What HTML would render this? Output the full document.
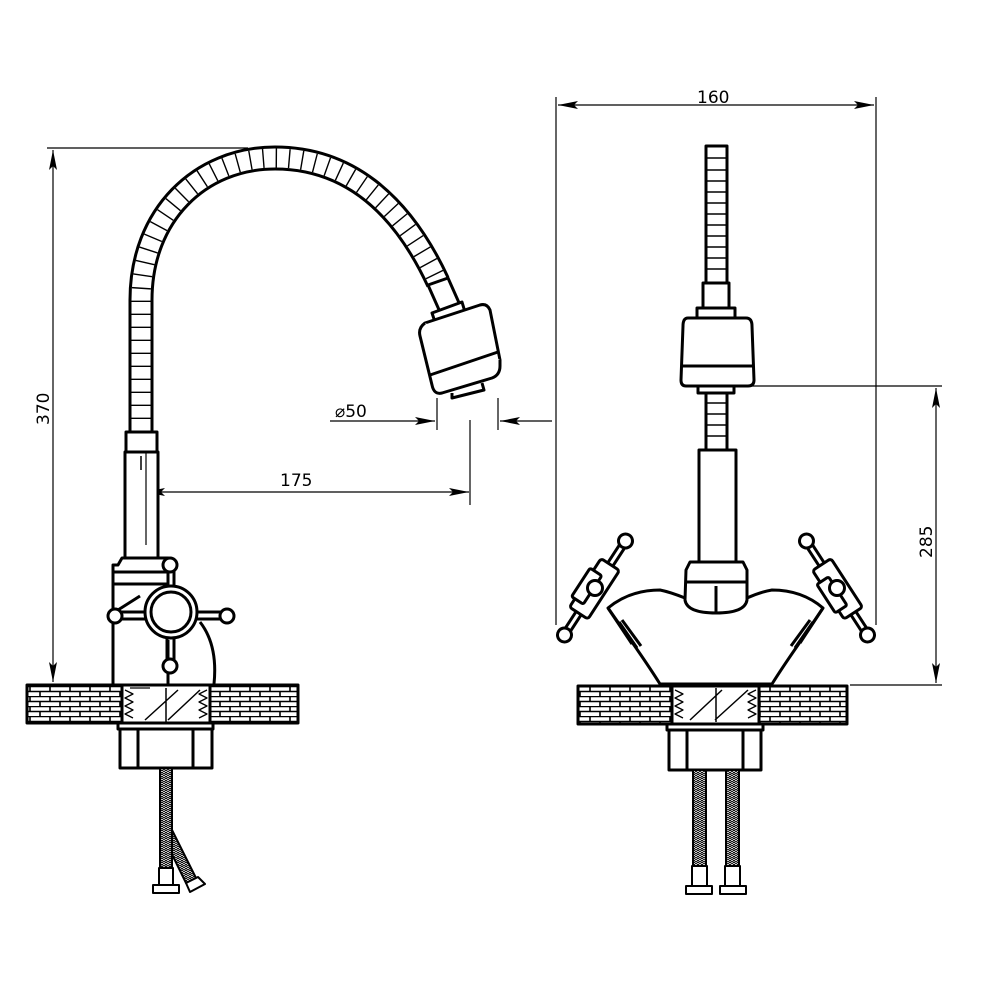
<!DOCTYPE html>
<html><head><meta charset="utf-8"><style>html,body{margin:0;padding:0;background:#fff}svg{display:block}text{font-family:"DejaVu Sans","Liberation Sans",sans-serif;font-size:17px;fill:#000}</style></head>
<body>
<svg width="1000" height="1000" viewBox="0 0 1000 1000" xmlns="http://www.w3.org/2000/svg">
<defs>
<marker id="ar" viewBox="0 0 20 8" refX="20" refY="4" markerWidth="20" markerHeight="8" markerUnits="userSpaceOnUse" orient="auto"><path d="M0,0 L20,4 L0,8 L4,4 Z" fill="#000"/></marker>
<pattern id="brick" width="20" height="10" patternUnits="userSpaceOnUse" x="27" y="686">
<rect width="20" height="10" fill="#fff"/>
<path d="M0,0.5H20M0,5.5H20M3,0.5V5.5M13,5.5V10" stroke="#000" stroke-width="1.6" fill="none"/>
</pattern>
<pattern id="braid" width="4" height="4" patternUnits="userSpaceOnUse">
<rect width="4" height="4" fill="#fff"/><path d="M0,4L2,2L4,4M0,2L2,0L4,2" stroke="#000" stroke-width="0.9" fill="none"/>
</pattern>
<g id="hnd">
<line x1="-52" y1="-3" x2="52" y2="-3"/><line x1="-52" y1="3" x2="52" y2="3"/>
<rect x="-30" y="-11" width="58" height="22" rx="3" fill="#fff"/>
<rect x="-20" y="-15" width="34" height="14" rx="2" fill="#fff"/>
<circle cx="-56" cy="0" r="7" fill="#fff"/><circle cx="56" cy="0" r="7" fill="#fff"/>
</g>
</defs>
<g fill="none" stroke="#000" stroke-width="1.2">
<line x1="47" y1="148" x2="248" y2="148"/>
<line x1="53" y1="420" x2="53" y2="150" marker-end="url(#ar)"/>
<line x1="53" y1="420" x2="53" y2="682" marker-end="url(#ar)"/>
<line x1="300" y1="492" x2="145" y2="492" marker-end="url(#ar)"/>
<line x1="300" y1="492" x2="469" y2="492" marker-end="url(#ar)"/>
<line x1="470" y1="420" x2="470" y2="505"/>
<line x1="437" y1="398" x2="437" y2="430"/>
<line x1="498" y1="398" x2="498" y2="430"/>
<line x1="330" y1="421" x2="435" y2="421" marker-end="url(#ar)"/>
<line x1="552" y1="421" x2="500" y2="421" marker-end="url(#ar)"/>
<line x1="556" y1="97" x2="556" y2="625"/>
<line x1="876" y1="97" x2="876" y2="625"/>
<line x1="716" y1="105" x2="558" y2="105" marker-end="url(#ar)"/>
<line x1="716" y1="105" x2="874" y2="105" marker-end="url(#ar)"/>
<line x1="748" y1="386" x2="942" y2="386"/>
<line x1="850" y1="685" x2="942" y2="685"/>
<line x1="936" y1="540" x2="936" y2="388" marker-end="url(#ar)"/>
<line x1="936" y1="540" x2="936" y2="683" marker-end="url(#ar)"/>
</g>
<text x="280" y="486">175</text>
<text x="335" y="417">⌀50</text>
<text x="697" y="103">160</text>
<text transform="translate(49,425) rotate(-90)">370</text>
<text transform="translate(932,558) rotate(-90)">285</text>

<g fill="none" stroke="#000" stroke-width="3" stroke-linejoin="round">
<path d="M141,432 L141,300 C141,215 200,158 275,158 C345,158 400,200 438,282" stroke-width="25" stroke-linecap="butt"/>
<path d="M141,432 L141,300 C141,215 200,158 275,158 C345,158 400,200 438,282" stroke="#fff" stroke-width="19"/>
<path d="M141,432 L141,300 C141,215 200,158 275,158 C345,158 400,200 438,282" stroke-width="19" stroke-dasharray="1.4 11.6"/>
<path d="M428,285 L448,278 L460,305 L440,312 Z" fill="#fff"/>
<path d="M432,313 L462,302 L465,312 L435,322 Z" fill="#fff"/>
<path d="M425,323 L480,305 Q487,303 490,310 L500,360 L438,382 Z" fill="#fff"/>
<path d="M425,323 Q418,328 420,336 L432,385 Q434,395 442,393 L492,378 Q500,375 500,366 L500,360" fill="#fff"/>
<path d="M430,375 L498,352"/>
<path d="M452,393 L452,398 L484,390 L482,383"/>
<rect x="126" y="432" width="31" height="20" fill="#fff"/>
<rect x="125" y="452" width="33" height="108" fill="#fff"/>
<line x1="141" y1="456" x2="141" y2="470" stroke-width="1.5"/>
<line x1="146" y1="452" x2="146" y2="545" stroke-width="1.2"/>
<path d="M118,565 L122,558 L168,558 L168,584 L113,584 L113,565 Z" fill="#fff"/>
<line x1="113" y1="572" x2="168" y2="572"/>
<path d="M113,584 L113,684 M168,640 L168,684" />
<path d="M200,622 Q218,645 214,684"/>
<path d="M110,615 L140,596"/>
<circle cx="171" cy="612" r="26" fill="#fff"/>
<circle cx="171" cy="612" r="20" fill="#fff"/>
<path d="M113,612 L145,612 M113,619 L145,619 M197,612 L225,612 M197,619 L225,619 M167,637 L167,663 M174,637 L174,663 M168,568 L168,587 M174,568 L174,587"/>
<circle cx="115" cy="616" r="7" fill="#fff"/>
<circle cx="227" cy="616" r="7" fill="#fff"/>
<circle cx="170" cy="565" r="7" fill="#fff"/>
<circle cx="170" cy="666" r="7" fill="#fff"/>
<rect x="27" y="685" width="271" height="38" fill="url(#brick)"/>
<rect x="122" y="685" width="88" height="38" fill="#fff"/>
<path d="M130,688 L150,688 M125,690 l8,4 l-8,4 l8,4 l-8,4 l8,4 l-8,4 l8,4 M207,690 l-8,4 l8,4 l-8,4 l8,4 l-8,4 l8,4 l-8,4" stroke-width="1.3"/>
<path d="M145,720 L178,690 M168,720 L200,690 M166,688 L166,722" stroke-width="1.5"/>
<rect x="118" y="723" width="95" height="6" fill="#fff"/>
<rect x="120" y="729" width="92" height="39" fill="#fff"/>
<line x1="138" y1="729" x2="138" y2="768"/><line x1="193" y1="729" x2="193" y2="768"/>
<path d="M172,830 L196,878 L186,883 L166,842" fill="url(#braid)" stroke-width="2"/>
<rect x="160" y="768" width="12" height="102" fill="url(#braid)" stroke-width="2"/>
<rect x="159" y="868" width="14" height="18" fill="#fff" stroke-width="2"/>
<rect x="153" y="885" width="26" height="8" fill="#fff" stroke-width="2"/>
<path d="M186,883 L198,877 L205,884 L190,892 Z" fill="#fff" stroke-width="2"/>

<rect x="706" y="146" width="21" height="137" fill="#fff"/>
<path d="M706,158H727M706,170H727M706,181H727M706,192H727M706,203H727M706,214H727M706,225H727M706,236H727M706,247H727M706,258H727M706,269H727" stroke-width="1.6"/>
<rect x="703" y="283" width="26" height="25" fill="#fff"/>
<rect x="697" y="308" width="38" height="10" fill="#fff"/>
<path d="M688,318 L746,318 Q752,318 752,326 L754,380 Q754,386 748,386 L686,386 Q681,386 681,380 L683,326 Q683,318 688,318 Z" fill="#fff"/>
<line x1="682" y1="366" x2="754" y2="366"/>
<rect x="698" y="386" width="36" height="7" fill="#fff"/>
<rect x="706" y="393" width="21" height="57" fill="#fff"/>
<path d="M706,403H727M706,414H727M706,425H727M706,436H727" stroke-width="1.6"/>
<rect x="699" y="450" width="37" height="112" fill="#fff"/>
<path d="M685,598 Q670,592 660,590 Q630,590 608,608 L634,645 Q650,668 660,684 L772,684 Q782,668 798,645 L823,608 Q802,590 772,590 Q760,592 747,598" fill="#fff"/>
<path d="M686,570 L690,562 L743,562 L747,570 L747,600 Q745,613 716,613 Q687,613 685,600 Z" fill="#fff"/>
<line x1="686" y1="582" x2="747" y2="582"/>
<line x1="716" y1="586" x2="716" y2="613"/>
<path d="M632,644 L608,608 M622,620 L641,646 M619,622 L637,648 M800,643 L823,608 M810,620 L791,646 M813,622 L795,648"/>
<use href="#hnd" transform="translate(595,588) rotate(-57)"/>
<circle cx="595" cy="588" r="7.5" fill="#fff"/>
<use href="#hnd" transform="translate(837,588) rotate(237)"/>
<circle cx="837" cy="588" r="7.5" fill="#fff"/>
<rect x="578" y="686" width="269" height="38" fill="url(#brick)"/>
<rect x="672" y="686" width="87" height="38" fill="#fff"/>
<path d="M675,690 l8,4 l-8,4 l8,4 l-8,4 l8,4 l-8,4 l8,4 M756,690 l-8,4 l8,4 l-8,4 l8,4 l-8,4 l8,4 l-8,4" stroke-width="1.3"/>
<path d="M690,720 L722,690 M715,720 L748,690 M716,688 L716,722" stroke-width="1.5"/>
<rect x="667" y="724" width="96" height="6" fill="#fff"/>
<rect x="669" y="730" width="92" height="40" fill="#fff"/>
<line x1="687" y1="730" x2="687" y2="770"/><line x1="743" y1="730" x2="743" y2="770"/>
<rect x="693" y="770" width="13" height="98" fill="url(#braid)" stroke-width="2"/>
<rect x="726" y="770" width="13" height="98" fill="url(#braid)" stroke-width="2"/>
<rect x="692" y="866" width="15" height="20" fill="#fff" stroke-width="2"/>
<rect x="725" y="866" width="15" height="20" fill="#fff" stroke-width="2"/>
<rect x="686" y="886" width="26" height="8" fill="#fff" stroke-width="2"/>
<rect x="720" y="886" width="26" height="8" fill="#fff" stroke-width="2"/>
</g>
</svg>
</body></html>
